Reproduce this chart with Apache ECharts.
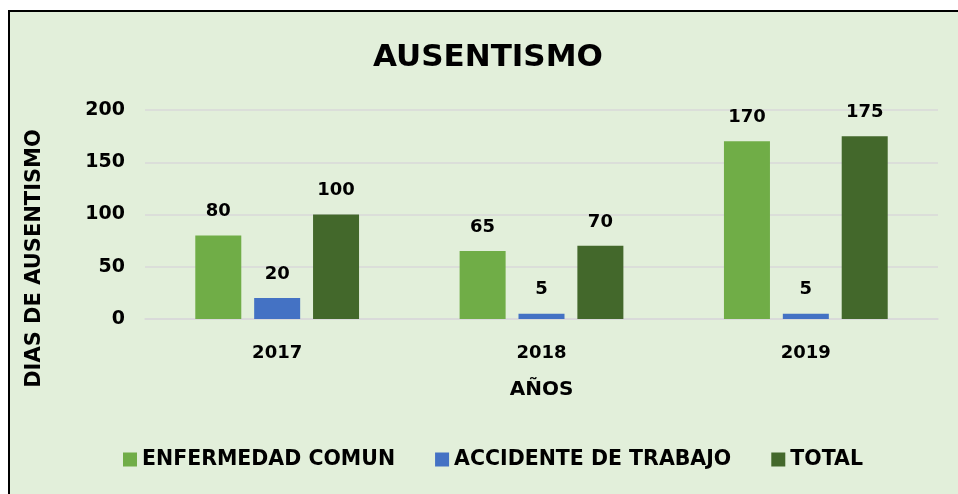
<!DOCTYPE html>
<html><head><meta charset="utf-8">
<script src="https://cdn.jsdelivr.net/npm/echarts@6/dist/echarts.min.js"></script>
<style>html,body{margin:0;padding:0;background:#fff}#c{width:958px;height:494px}</style>
</head><body><div id="c"></div>
<script>
const categories = ['2017', '2018', '2019'];
const enfermedadComun = [80, 65, 170];
const accidenteTrabajo = [20, 5, 5];
const total = [100, 70, 175];
const seriesNames = ['ENFERMEDAD COMUN', 'ACCIDENTE DE TRABAJO', 'TOTAL'];
const colors = ['#70ad47', '#4472c4', '#43682b'];
const FONT = 'DejaVu Sans';

const chart = echarts.init(document.getElementById('c'));
const lbl = {show: true, position: 'top', distance: 15, color: '#000', fontWeight: 'bold', fontSize: 18, fontFamily: FONT};
chart.setOption({
  backgroundColor: '#fff',
  color: colors,
  graphic: [{type: 'rect', shape: {x: 9, y: 11, width: 1100, height: 600}, style: {fill: '#e2efda', stroke: '#000', lineWidth: 2}, z: -10}],
  title: {text: 'AUSENTISMO', left: 368, top: 37, textStyle: {fontFamily: FONT, fontWeight: 'bold', fontSize: 31, color: '#000'}},
  legend: {bottom: 19, left: 118, itemWidth: 14, itemHeight: 14, itemGap: 40, icon: 'rect',
    textStyle: {fontFamily: FONT, fontWeight: 'bold', fontSize: 20.5, color: '#000'}, data: seriesNames},
  grid: {left: 145, right: 20, top: 110, bottom: 175},
  xAxis: {type: 'category', data: categories, name: 'AÑOS', nameLocation: 'middle', nameGap: 61,
    nameTextStyle: {fontFamily: FONT, fontWeight: 'bold', fontSize: 20, color: '#000'},
    axisLine: {lineStyle: {color: '#d9d9d9', width: 1.5}}, axisTick: {show: false},
    axisLabel: {fontFamily: FONT, fontWeight: 'bold', fontSize: 18, color: '#000', margin: 25}},
  yAxis: {type: 'value', min: 0, max: 200, interval: 50, name: 'DIAS DE AUSENTISMO', nameLocation: 'middle', nameGap: 100,
    nameTextStyle: {fontFamily: FONT, fontWeight: 'bold', fontSize: 21, color: '#000', padding: [0, 88, 0, 0]},
    axisLine: {show: false}, axisTick: {show: false},
    splitLine: {lineStyle: {color: '#d9d9d9', width: 1.5}},
    axisLabel: {fontFamily: FONT, fontWeight: 'bold', fontSize: 19, color: '#000', margin: 20}},
  series: [
    {name: seriesNames[0], type: 'bar', data: enfermedadComun, barWidth: 46, barGap: '28%', label: lbl},
    {name: seriesNames[1], type: 'bar', data: accidenteTrabajo, barWidth: 46, barGap: '28%', label: lbl},
    {name: seriesNames[2], type: 'bar', data: total, barWidth: 46, barGap: '28%', label: lbl}
  ]
});
</script></body></html>
